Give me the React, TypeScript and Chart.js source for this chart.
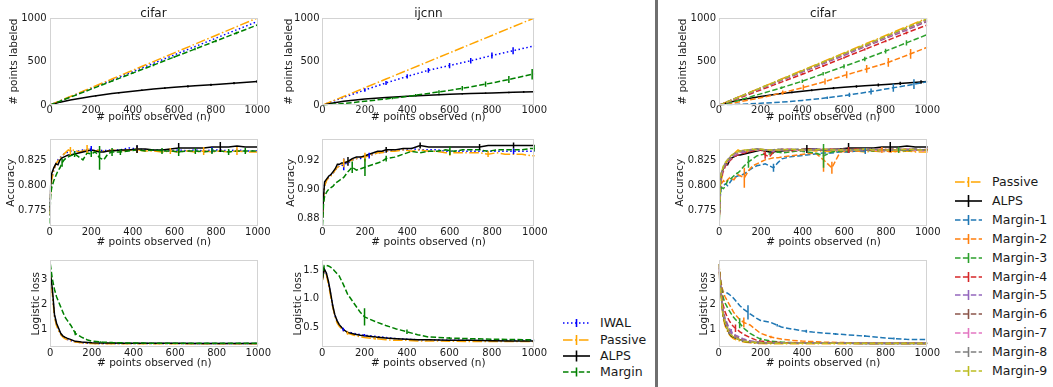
import React, { useEffect, useRef } from "react";
import { Chart, registerables } from "chart.js";
Chart.register(...registerables);

const FONT = '"DejaVu Sans", sans-serif';
Chart.defaults.font.family = FONT;

// ---------------- tick labels / grids ----------------
const X_TICKS = [0, 200, 400, 600, 800, 1000];
const Y_TICKS_LAB = [0, 500, 1000];
const Y_TICKS_ACC_CIFAR = [0.775, 0.8, 0.825];
const Y_TICKS_ACC_IJCNN = [0.88, 0.9, 0.92];
const Y_TICKS_LOSS_CIFAR = [1, 2, 3];
const Y_TICKS_LOSS_IJCNN = [0.5, 1.0, 1.5];

const N_TOP = [0, 50, 100, 200, 300, 400, 500, 600, 700, 800, 900, 1000];
const N_ACC = [0, 5, 10, 20, 30, 40, 50, 60, 70, 80, 90, 100, 120, 140, 160, 180, 200, 220, 240, 260, 280, 300, 340, 380, 420, 460, 500, 540, 580, 620, 660, 700, 740, 780, 820, 860, 900, 940, 980, 1000];
const N_LOSS = [0, 10, 20, 30, 40, 50, 60, 70, 80, 100, 120, 150, 180, 200, 250, 300, 350, 400, 450, 500, 600, 700, 800, 900, 1000];

// ---------------- # points labeled ----------------
const labCifarPassive = [0, 50, 100, 200, 300, 400, 500, 600, 700, 800, 900, 1000];
const labCifarIWAL = [0, 48, 96, 192, 288, 384, 480, 576, 672, 768, 864, 960];
const labCifarALPS = [0, 35, 60, 100, 135, 160, 185, 205, 222, 238, 255, 272];
const labCifarMargin = [0, 46, 92, 184, 276, 368, 460, 552, 644, 736, 828, 920];

const labIjPassive = [0, 50, 100, 200, 300, 400, 500, 600, 700, 800, 900, 1000];
const labIjIWAL = [0, 45, 90, 175, 255, 330, 400, 455, 510, 570, 625, 680];
const labIjALPS = [0, 25, 45, 70, 88, 103, 115, 125, 133, 140, 148, 155];
const labIjMargin = [0, 10, 20, 45, 72, 100, 135, 170, 210, 255, 305, 360];

const labM1 = [0, 5, 10, 22, 35, 55, 80, 110, 145, 185, 225, 270];
const labM2 = [0, 18, 40, 85, 140, 200, 265, 340, 410, 480, 570, 665];
const labM3 = [0, 28, 60, 130, 200, 275, 360, 445, 530, 620, 715, 810];
const labM4 = [0, 42, 85, 175, 265, 355, 450, 545, 640, 735, 830, 920];
const labM5 = [0, 47, 94, 190, 285, 380, 475, 570, 670, 765, 860, 960];
const labM6 = [0, 48, 96, 193, 290, 385, 482, 580, 676, 772, 870, 968];
const labM7 = [0, 48, 97, 194, 292, 388, 486, 583, 680, 777, 874, 975];
const labM8 = [0, 49, 98, 196, 294, 392, 490, 588, 686, 784, 882, 982];
const labM9 = [0, 49, 99, 198, 297, 396, 495, 594, 693, 792, 891, 992];

// ---------------- accuracy ----------------
const accCifarALPS = [0.775, 0.8, 0.812, 0.818, 0.822, 0.821, 0.826, 0.828, 0.829, 0.83, 0.831, 0.831, 0.832, 0.833, 0.834, 0.835, 0.836, 0.835, 0.834, 0.834, 0.835, 0.835, 0.836, 0.836, 0.837, 0.837, 0.836, 0.836, 0.837, 0.838, 0.838, 0.838, 0.838, 0.839, 0.839, 0.839, 0.84, 0.839, 0.839, 0.839];
const accCifarMargin = [0.762, 0.79, 0.798, 0.805, 0.81, 0.815, 0.818, 0.823, 0.826, 0.828, 0.829, 0.83, 0.832, 0.829, 0.826, 0.833, 0.832, 0.834, 0.828, 0.826, 0.832, 0.834, 0.834, 0.835, 0.836, 0.835, 0.836, 0.835, 0.835, 0.834, 0.835, 0.835, 0.834, 0.835, 0.835, 0.834, 0.835, 0.835, 0.835, 0.835];
const accCifarPassive = [0.77, 0.795, 0.806, 0.815, 0.822, 0.825, 0.828, 0.83, 0.832, 0.834, 0.836, 0.835, 0.836, 0.834, 0.835, 0.837, 0.836, 0.835, 0.836, 0.835, 0.835, 0.836, 0.835, 0.836, 0.836, 0.835, 0.835, 0.834, 0.835, 0.834, 0.835, 0.834, 0.835, 0.834, 0.835, 0.834, 0.835, 0.834, 0.834, 0.834];
const accCifarIWAL = [0.77, 0.796, 0.807, 0.816, 0.822, 0.826, 0.828, 0.83, 0.832, 0.833, 0.834, 0.835, 0.834, 0.835, 0.836, 0.836, 0.837, 0.835, 0.836, 0.835, 0.836, 0.836, 0.836, 0.838, 0.837, 0.836, 0.836, 0.836, 0.835, 0.836, 0.835, 0.836, 0.835, 0.836, 0.836, 0.835, 0.836, 0.835, 0.835, 0.835];

const accIjALPS = [0.88, 0.895, 0.905, 0.907, 0.909, 0.91, 0.912, 0.914, 0.917, 0.917, 0.918, 0.918, 0.919, 0.921, 0.922, 0.922, 0.923, 0.924, 0.925, 0.926, 0.926, 0.927, 0.927, 0.928, 0.928, 0.93, 0.929, 0.929, 0.929, 0.929, 0.929, 0.929, 0.929, 0.93, 0.93, 0.93, 0.93, 0.93, 0.93, 0.93];
const accIjMargin = [0.875, 0.89, 0.895, 0.898, 0.9, 0.901, 0.902, 0.904, 0.905, 0.906, 0.907, 0.908, 0.912, 0.915, 0.913, 0.914, 0.915, 0.916, 0.917, 0.918, 0.919, 0.921, 0.922, 0.924, 0.926, 0.925, 0.926, 0.926, 0.927, 0.926, 0.927, 0.927, 0.927, 0.926, 0.927, 0.927, 0.927, 0.927, 0.928, 0.928];
const accIjPassive = [0.88, 0.893, 0.902, 0.906, 0.908, 0.909, 0.911, 0.913, 0.915, 0.916, 0.917, 0.918, 0.919, 0.92, 0.921, 0.922, 0.922, 0.923, 0.924, 0.925, 0.925, 0.926, 0.926, 0.927, 0.926, 0.927, 0.926, 0.926, 0.925, 0.925, 0.925, 0.925, 0.925, 0.924, 0.925, 0.924, 0.924, 0.924, 0.923, 0.923];
const accIjIWAL = [0.88, 0.894, 0.903, 0.906, 0.908, 0.91, 0.911, 0.913, 0.915, 0.916, 0.916, 0.917, 0.918, 0.92, 0.921, 0.921, 0.922, 0.923, 0.924, 0.925, 0.925, 0.926, 0.927, 0.927, 0.928, 0.927, 0.927, 0.927, 0.926, 0.926, 0.926, 0.926, 0.926, 0.926, 0.926, 0.926, 0.926, 0.926, 0.926, 0.926];

const accM1 = [0.77, 0.79, 0.798, 0.8, 0.802, 0.8, 0.803, 0.806, 0.808, 0.809, 0.81, 0.81, 0.812, 0.815, 0.818, 0.82, 0.821, 0.822, 0.82, 0.818, 0.823, 0.827, 0.829, 0.83, 0.831, 0.832, 0.833, 0.833, 0.834, 0.834, 0.835, 0.835, 0.836, 0.835, 0.836, 0.836, 0.836, 0.836, 0.836, 0.836];
const accM2 = [0.77, 0.795, 0.802, 0.805, 0.803, 0.806, 0.808, 0.807, 0.806, 0.809, 0.811, 0.81, 0.808, 0.815, 0.82, 0.822, 0.824, 0.826, 0.827, 0.828, 0.828, 0.829, 0.83, 0.831, 0.832, 0.833, 0.826, 0.818, 0.834, 0.835, 0.835, 0.836, 0.835, 0.836, 0.834, 0.835, 0.836, 0.835, 0.836, 0.836];
const accM3 = [0.765, 0.792, 0.798, 0.797, 0.8, 0.805, 0.806, 0.808, 0.81, 0.812, 0.813, 0.815, 0.82, 0.824, 0.827, 0.83, 0.831, 0.832, 0.832, 0.833, 0.834, 0.833, 0.834, 0.835, 0.834, 0.833, 0.83, 0.834, 0.835, 0.835, 0.836, 0.836, 0.835, 0.836, 0.836, 0.836, 0.835, 0.836, 0.836, 0.836];
const accM4 = [0.77, 0.798, 0.808, 0.815, 0.82, 0.822, 0.825, 0.827, 0.829, 0.83, 0.831, 0.832, 0.833, 0.834, 0.835, 0.836, 0.836, 0.831, 0.829, 0.834, 0.836, 0.836, 0.835, 0.836, 0.837, 0.836, 0.836, 0.837, 0.836, 0.836, 0.837, 0.836, 0.836, 0.837, 0.836, 0.836, 0.837, 0.836, 0.836, 0.837];
const accM5 = [0.77, 0.8, 0.81, 0.817, 0.821, 0.824, 0.826, 0.828, 0.83, 0.831, 0.832, 0.833, 0.834, 0.835, 0.836, 0.836, 0.837, 0.836, 0.836, 0.835, 0.836, 0.836, 0.837, 0.836, 0.836, 0.837, 0.836, 0.836, 0.837, 0.836, 0.836, 0.836, 0.837, 0.836, 0.836, 0.836, 0.837, 0.836, 0.836, 0.836];
const accM6 = [0.77, 0.8, 0.811, 0.818, 0.822, 0.825, 0.827, 0.829, 0.831, 0.832, 0.833, 0.834, 0.835, 0.836, 0.836, 0.837, 0.836, 0.836, 0.835, 0.836, 0.836, 0.837, 0.836, 0.836, 0.837, 0.836, 0.836, 0.837, 0.837, 0.836, 0.837, 0.836, 0.837, 0.836, 0.837, 0.837, 0.836, 0.837, 0.836, 0.837];
const accM7 = [0.77, 0.801, 0.812, 0.819, 0.823, 0.826, 0.828, 0.83, 0.831, 0.832, 0.834, 0.834, 0.835, 0.836, 0.837, 0.836, 0.837, 0.836, 0.836, 0.835, 0.836, 0.836, 0.837, 0.835, 0.836, 0.836, 0.837, 0.836, 0.836, 0.835, 0.836, 0.837, 0.836, 0.835, 0.836, 0.836, 0.837, 0.836, 0.835, 0.835];
const accM8 = [0.77, 0.802, 0.813, 0.819, 0.823, 0.826, 0.828, 0.83, 0.832, 0.833, 0.834, 0.835, 0.835, 0.836, 0.836, 0.837, 0.836, 0.836, 0.836, 0.836, 0.837, 0.836, 0.836, 0.837, 0.836, 0.836, 0.836, 0.837, 0.836, 0.836, 0.836, 0.836, 0.837, 0.836, 0.836, 0.836, 0.836, 0.837, 0.836, 0.836];
const accM9 = [0.768, 0.803, 0.813, 0.82, 0.824, 0.826, 0.829, 0.831, 0.832, 0.833, 0.834, 0.835, 0.836, 0.836, 0.837, 0.836, 0.837, 0.836, 0.836, 0.836, 0.836, 0.836, 0.837, 0.836, 0.836, 0.836, 0.837, 0.836, 0.836, 0.836, 0.836, 0.837, 0.836, 0.836, 0.836, 0.836, 0.837, 0.836, 0.836, 0.836];

// ---------------- logistic loss ----------------
const lossCifarALPS = [3.3, 2.6, 1.6, 1.25, 1.05, 0.85, 0.75, 0.7, 0.66, 0.6, 0.53, 0.5, 0.48, 0.47, 0.46, 0.46, 0.455, 0.455, 0.45, 0.45, 0.45, 0.445, 0.445, 0.445, 0.445];
const lossCifarMargin = [3.6, 3.0, 2.6, 2.3, 2.1, 1.9, 1.7, 1.5, 1.38, 1.15, 0.85, 0.7, 0.58, 0.54, 0.5, 0.48, 0.47, 0.465, 0.46, 0.455, 0.455, 0.45, 0.45, 0.45, 0.45];
const lossCifarPassive = [3.3, 2.4, 1.5, 1.15, 0.95, 0.8, 0.7, 0.64, 0.6, 0.55, 0.5, 0.47, 0.45, 0.44, 0.435, 0.43, 0.43, 0.43, 0.43, 0.43, 0.43, 0.43, 0.43, 0.43, 0.43];
const lossCifarIWAL = [3.3, 2.45, 1.55, 1.2, 1.0, 0.82, 0.72, 0.66, 0.61, 0.56, 0.51, 0.48, 0.46, 0.45, 0.44, 0.44, 0.44, 0.44, 0.44, 0.44, 0.44, 0.44, 0.44, 0.44, 0.44];

const lossIjALPS = [1.3, 1.52, 1.45, 1.3, 1.1, 0.88, 0.72, 0.62, 0.55, 0.46, 0.41, 0.38, 0.36, 0.35, 0.33, 0.31, 0.3, 0.29, 0.28, 0.28, 0.27, 0.27, 0.265, 0.26, 0.26];
const lossIjPassive = [1.3, 1.5, 1.42, 1.25, 1.05, 0.85, 0.7, 0.58, 0.52, 0.44, 0.4, 0.36, 0.33, 0.32, 0.3, 0.28, 0.27, 0.27, 0.26, 0.26, 0.255, 0.25, 0.25, 0.25, 0.25];
const lossIjIWAL = [1.3, 1.51, 1.44, 1.28, 1.08, 0.87, 0.71, 0.61, 0.54, 0.46, 0.42, 0.39, 0.37, 0.36, 0.34, 0.32, 0.3, 0.29, 0.28, 0.28, 0.27, 0.27, 0.27, 0.27, 0.27];
const lossIjMargin = [1.35, 1.58, 1.58, 1.57, 1.55, 1.52, 1.48, 1.44, 1.4, 1.25, 1.08, 0.92, 0.76, 0.68, 0.6, 0.53, 0.47, 0.42, 0.37, 0.33, 0.31, 0.3, 0.29, 0.285, 0.28];

const lossM1 = [3.6, 2.8, 2.5, 2.48, 2.45, 2.4, 2.32, 2.25, 2.15, 1.95, 1.8, 1.62, 1.45, 1.36, 1.28, 1.1, 1.02, 0.95, 0.9, 0.86, 0.8, 0.74, 0.66, 0.61, 0.6];
const lossM2 = [3.6, 2.9, 2.5, 2.3, 2.15, 2.0, 1.85, 1.7, 1.58, 1.4, 1.28, 1.18, 0.98, 0.85, 0.7, 0.62, 0.57, 0.54, 0.52, 0.5, 0.48, 0.47, 0.46, 0.46, 0.46];
const lossM3 = [3.6, 2.8, 2.3, 2.05, 1.9, 1.75, 1.62, 1.5, 1.4, 1.25, 1.05, 0.85, 0.7, 0.62, 0.54, 0.5, 0.48, 0.47, 0.46, 0.46, 0.455, 0.45, 0.45, 0.45, 0.45];
const lossM4 = [3.6, 2.7, 2.0, 1.7, 1.5, 1.35, 1.22, 1.12, 1.05, 0.92, 0.8, 0.68, 0.58, 0.54, 0.5, 0.48, 0.47, 0.46, 0.455, 0.45, 0.45, 0.45, 0.45, 0.45, 0.45];
const lossM5 = [3.5, 2.6, 1.8, 1.45, 1.25, 1.05, 0.92, 0.85, 0.78, 0.7, 0.62, 0.55, 0.51, 0.49, 0.47, 0.46, 0.455, 0.45, 0.45, 0.45, 0.45, 0.45, 0.45, 0.45, 0.45];
const lossM6 = [3.45, 2.55, 1.7, 1.35, 1.15, 0.95, 0.85, 0.78, 0.72, 0.64, 0.57, 0.52, 0.49, 0.48, 0.46, 0.455, 0.45, 0.45, 0.45, 0.45, 0.45, 0.45, 0.45, 0.45, 0.45];
const lossM7 = [3.4, 2.5, 1.65, 1.3, 1.1, 0.9, 0.8, 0.74, 0.69, 0.61, 0.55, 0.51, 0.48, 0.47, 0.46, 0.455, 0.45, 0.45, 0.45, 0.45, 0.45, 0.45, 0.45, 0.45, 0.45];
const lossM8 = [3.38, 2.48, 1.62, 1.28, 1.08, 0.88, 0.78, 0.72, 0.68, 0.6, 0.54, 0.5, 0.48, 0.47, 0.46, 0.45, 0.45, 0.45, 0.45, 0.45, 0.45, 0.45, 0.45, 0.45, 0.45];
const lossM9 = [3.6, 2.45, 1.6, 1.26, 1.06, 0.86, 0.77, 0.71, 0.67, 0.59, 0.53, 0.5, 0.48, 0.47, 0.46, 0.45, 0.45, 0.45, 0.45, 0.45, 0.45, 0.45, 0.45, 0.45, 0.45];

// ---------------- error bars: [n, half length] ----------------
const errLabCifarALPS = [[111, 5], [222, 7], [333, 8], [444, 9], [555, 10], [666, 12], [777, 13], [888, 14], [999, 15]];
const errLabCifarMargin = [[300, 10], [400, 10], [500, 12], [600, 12], [700, 14], [800, 14], [900, 15]];
const errLabIjIWAL = [[200, 20], [300, 22], [400, 25], [500, 28], [600, 30], [700, 32], [800, 35], [900, 40]];
const errLabIjMargin = [[330, 12], [440, 15], [550, 20], [660, 25], [770, 30], [880, 40], [990, 60]];
const errLabIjALPS = [[440, 6], [550, 7], [660, 8], [770, 8], [880, 9], [950, 10]];
const errLabRALPS = [[350, 10], [445, 12], [550, 13], [660, 15], [765, 17], [870, 18], [970, 20]];
const errLabM1 = [[520, 15], [626, 25], [730, 35], [837, 45], [936, 55]];
const errLabM2 = [[306, 25], [405, 30], [509, 35], [613, 40], [709, 45], [813, 50], [920, 55]];
const errLabM3 = [[300, 15], [400, 20], [500, 20], [600, 25], [700, 25], [800, 28], [900, 30]];
const errLabM4 = [[400, 10], [500, 12], [600, 12], [700, 14], [800, 14], [900, 15]];

const errAccCifarMargin = [[60, 0.004], [120, 0.003], [200, 0.003], [240, 0.012], [300, 0.004], [340, 0.003], [540, 0.003], [620, 0.004], [700, 0.003], [780, 0.003], [860, 0.003], [940, 0.003]];
const errAccCifarALPS = [[420, 0.004], [620, 0.005], [820, 0.005]];
const errAccCifarPassive = [[100, 0.004], [180, 0.004], [420, 0.003], [580, 0.003], [740, 0.004], [900, 0.004]];
const errAccCifarIWAL = [[200, 0.003], [420, 0.003], [780, 0.003]];
const errAccIjMargin = [[140, 0.004], [200, 0.006], [300, 0.002], [600, 0.003], [1000, 0.002]];
const errAccIjALPS = [[120, 0.003], [300, 0.002], [460, 0.002], [740, 0.002], [900, 0.002]];
const errAccIjPassive = [[100, 0.003], [200, 0.003], [600, 0.002], [780, 0.002]];
const errAccIjIWAL = [[100, 0.004], [220, 0.002], [900, 0.002]];
const errAccM1 = [[260, 0.004], [500, 0.003], [700, 0.003]];
const errAccM2 = [[120, 0.01], [500, 0.012], [540, 0.006], [780, 0.003]];
const errAccM3 = [[140, 0.006], [500, 0.012], [860, 0.003]];
const errAccM4 = [[220, 0.004], [620, 0.003]];

const errLossCifarMargin = [[120, 0.08], [240, 0.03]];
const errLossIjMargin = [[0, 0.13], [200, 0.15], [400, 0.04], [600, 0.02]];
const errLossIjPassive = [[120, 0.03], [250, 0.02]];
const errLossIjIWAL = [[100, 0.03], [200, 0.02]];
const errLossM1 = [[140, 0.28], [280, 0.05], [420, 0.06], [560, 0.04], [700, 0.04], [840, 0.04]];
const errLossM2 = [[120, 0.2], [250, 0.05]];
const errLossM3 = [[100, 0.2], [200, 0.05]];
const errLossM4 = [[80, 0.15]];
const errLossM5 = [[60, 0.1]];

// ---------------- styles ----------------
const C_IWAL = "#0000ff";
const C_PASSIVE = "#ffa500";
const C_ALPS = "#000000";
const C_MARGIN = "#008000";
const TAB10 = ["#1f77b4", "#ff7f0e", "#2ca02c", "#d62728", "#9467bd", "#8c564b", "#e377c2", "#7f7f7f", "#bcbd22"];
const DOTTED = [1.5, 2.5];
const DASH_DOT = [9.6, 2.4, 1.5, 2.4];
const DASHED = [5.5, 2.4];
const SOLID: number[] = [];

const ser = (label: string, color: string, dash: number[], xs: number[], ys: number[], err: number[][] = []) => ({ label, color, dash, xs, ys, err });

const MARGIN_LABELS = ["Margin-1", "Margin-2", "Margin-3", "Margin-4", "Margin-5", "Margin-6", "Margin-7", "Margin-8", "Margin-9"];

const rightSeries = (xs: number[], passive: number[], alps: number[], ms: number[][], errs: number[][][], errAlps: number[][] = []) => [
  ser("Passive", C_PASSIVE, DASH_DOT, xs, passive),
  ser("ALPS", C_ALPS, SOLID, xs, alps, errAlps),
  ...ms.map((m, i) => ser(MARGIN_LABELS[i], TAB10[i], DASHED, xs, m, errs[i] || [])),
];

// ---------------- layout ----------------
const COLS = [[50, 258], [322, 534], [719, 927]];
const ROWS = [[18, 105], [139, 226], [260, 347]];
const X_TITLE_CY = [117.5, 242.3, 363.3];
const X_TICK_PAD = [0, 1.5, 1];

const fmtInt = (v: number) => String(Math.round(v));
const fmt3 = (v: number) => v.toFixed(3);
const fmt2 = (v: number) => v.toFixed(2);
const fmt1 = (v: number) => v.toFixed(1);

const PANELS = [
  { col: 0, row: 0, title: "cifar", yMin: 0, yMax: 1000, yTicks: Y_TICKS_LAB, fmt: fmtInt, yTitle: "# points labeled", yTitleCX: 14.7,
    series: [ser("IWAL", C_IWAL, DOTTED, N_TOP, labCifarIWAL), ser("Passive", C_PASSIVE, DASH_DOT, N_TOP, labCifarPassive), ser("ALPS", C_ALPS, SOLID, N_TOP, labCifarALPS, errLabCifarALPS), ser("Margin", C_MARGIN, DASHED, N_TOP, labCifarMargin, errLabCifarMargin)] },
  { col: 1, row: 0, title: "ijcnn", yMin: 0, yMax: 1000, yTicks: Y_TICKS_LAB, fmt: fmtInt, yTitle: "# points labeled", yTitleCX: 288.8,
    series: [ser("IWAL", C_IWAL, DOTTED, N_TOP, labIjIWAL, errLabIjIWAL), ser("Passive", C_PASSIVE, DASH_DOT, N_TOP, labIjPassive), ser("ALPS", C_ALPS, SOLID, N_TOP, labIjALPS, errLabIjALPS), ser("Margin", C_MARGIN, DASHED, N_TOP, labIjMargin, errLabIjMargin)] },
  { col: 2, row: 0, title: "cifar", yMin: 0, yMax: 1000, yTicks: Y_TICKS_LAB, fmt: fmtInt, yTitle: "# points labeled", yTitleCX: 683.3,
    series: rightSeries(N_TOP, labCifarPassive, labCifarALPS, [labM1, labM2, labM3, labM4, labM5, labM6, labM7, labM8, labM9], [errLabM1, errLabM2, errLabM3, errLabM4], errLabRALPS) },
  { col: 0, row: 1, yMin: 0.759, yMax: 0.847, yTicks: Y_TICKS_ACC_CIFAR, fmt: fmt3, yTitle: "Accuracy", yTitleCX: 11.7,
    series: [ser("IWAL", C_IWAL, DOTTED, N_ACC, accCifarIWAL, errAccCifarIWAL), ser("Passive", C_PASSIVE, DASH_DOT, N_ACC, accCifarPassive, errAccCifarPassive), ser("ALPS", C_ALPS, SOLID, N_ACC, accCifarALPS, errAccCifarALPS), ser("Margin", C_MARGIN, DASHED, N_ACC, accCifarMargin, errAccCifarMargin)] },
  { col: 1, row: 1, yMin: 0.8742, yMax: 0.9345, yTicks: Y_TICKS_ACC_IJCNN, fmt: fmt2, yTitle: "Accuracy", yTitleCX: 290.8,
    series: [ser("IWAL", C_IWAL, DOTTED, N_ACC, accIjIWAL, errAccIjIWAL), ser("Passive", C_PASSIVE, DASH_DOT, N_ACC, accIjPassive, errAccIjPassive), ser("ALPS", C_ALPS, SOLID, N_ACC, accIjALPS, errAccIjALPS), ser("Margin", C_MARGIN, DASHED, N_ACC, accIjMargin, errAccIjMargin)] },
  { col: 2, row: 1, yMin: 0.759, yMax: 0.847, yTicks: Y_TICKS_ACC_CIFAR, fmt: fmt3, yTitle: "Accuracy", yTitleCX: 680,
    series: rightSeries(N_ACC, accCifarPassive, accCifarALPS, [accM1, accM2, accM3, accM4, accM5, accM6, accM7, accM8, accM9], [errAccM1, errAccM2, errAccM3, errAccM4], errAccCifarALPS) },
  { col: 0, row: 2, yMin: 0.29, yMax: 3.76, yTicks: Y_TICKS_LOSS_CIFAR, fmt: fmtInt, yTitle: "Logistic loss", yTitleCX: 36,
    series: [ser("IWAL", C_IWAL, DOTTED, N_LOSS, lossCifarIWAL), ser("Passive", C_PASSIVE, DASH_DOT, N_LOSS, lossCifarPassive), ser("ALPS", C_ALPS, SOLID, N_LOSS, lossCifarALPS), ser("Margin", C_MARGIN, DASHED, N_LOSS, lossCifarMargin, errLossCifarMargin)] },
  { col: 1, row: 2, yMin: 0.147, yMax: 1.676, yTicks: Y_TICKS_LOSS_IJCNN, fmt: fmt1, yTitle: "Logistic loss", yTitleCX: 298.2,
    series: [ser("IWAL", C_IWAL, DOTTED, N_LOSS, lossIjIWAL, errLossIjIWAL), ser("Passive", C_PASSIVE, DASH_DOT, N_LOSS, lossIjPassive, errLossIjPassive), ser("ALPS", C_ALPS, SOLID, N_LOSS, lossIjALPS), ser("Margin", C_MARGIN, DASHED, N_LOSS, lossIjMargin, errLossIjMargin)] },
  { col: 2, row: 2, yMin: 0.29, yMax: 3.76, yTicks: Y_TICKS_LOSS_CIFAR, fmt: fmtInt, yTitle: "Logistic loss", yTitleCX: 704.5,
    series: rightSeries(N_LOSS, lossCifarPassive, lossCifarALPS, [lossM1, lossM2, lossM3, lossM4, lossM5, lossM6, lossM7, lossM8, lossM9], [errLossM1, errLossM2, errLossM3, errLossM4, errLossM5]) },
];

const TEXT = "#1a1a1a";
const AX_FS = 10.5;
const AX_LH = AX_FS * 1.2;

function interpY(pts: any[], x: number) {
  for (let i = 0; i < pts.length - 1; i++) {
    const a = pts[i], b = pts[i + 1];
    if (x >= a.x && x <= b.x) {
      const f = b.x === a.x ? 0 : (x - a.x) / (b.x - a.x);
      return a.y + f * (b.y - a.y);
    }
  }
  return pts[pts.length - 1].y;
}

const decorPlugin = {
  id: "decor",
  afterDatasetsDraw(chart: any) {
    const { ctx, chartArea: ca, scales } = chart;
    ctx.save();
    ctx.beginPath();
    ctx.rect(ca.left, ca.top, ca.right - ca.left, ca.bottom - ca.top);
    ctx.clip();
    chart.data.datasets.forEach((ds: any) => {
      ctx.strokeStyle = ds.borderColor;
      ctx.lineWidth = 1.5;
      ctx.setLineDash([]);
      (ds.errBars || []).forEach((e: number[]) => {
        const y = interpY(ds.data, e[0]);
        const px = scales.x.getPixelForValue(e[0]);
        ctx.beginPath();
        ctx.moveTo(px, scales.y.getPixelForValue(y - e[1]));
        ctx.lineTo(px, scales.y.getPixelForValue(y + e[1]));
        ctx.stroke();
      });
    });
    ctx.restore();
    ctx.save();
    ctx.strokeStyle = "#d3d3d3";
    ctx.lineWidth = 1;
    ctx.setLineDash([]);
    ctx.strokeRect(Math.round(ca.left) + 0.5, Math.round(ca.top) + 0.5, Math.round(ca.right - ca.left) - 1, Math.round(ca.bottom - ca.top) - 1);
    ctx.restore();
  },
  afterDraw(chart: any, _args: any, opts: any) {
    if (!opts || !opts.text) return;
    const { ctx, chartArea: ca } = chart;
    ctx.save();
    ctx.fillStyle = TEXT;
    ctx.font = `12px ${FONT}`;
    ctx.textAlign = "center";
    ctx.textBaseline = "alphabetic";
    ctx.fillText(opts.text, (ca.left + ca.right) / 2, ca.top - 1.5);
    ctx.restore();
  },
};

function PanelChart({ p }: { p: any }) {
  const ref = useRef<HTMLCanvasElement>(null);
  useEffect(() => {
    const canvas = ref.current!;
    const [l, r] = COLS[p.col];
    const [t, b] = ROWS[p.row];
    const yW = l - p.yTitleCX + AX_LH / 2;
    const xH = X_TITLE_CY[p.row] - b + AX_LH / 2;
    canvas.width = Math.round(r - l + yW + 20);
    canvas.height = Math.round(b - t + xH + (p.title ? 26 : 12));
    const n = p.series.length;
    const chart = new Chart(canvas, {
      type: "line",
      data: {
        datasets: p.series.map((s: any, i: number) => ({
          label: s.label,
          data: s.xs.map((x: number, k: number) => ({ x, y: s.ys[k] })),
          borderColor: s.color,
          backgroundColor: s.color,
          borderDash: s.dash,
          borderWidth: 1.5,
          pointRadius: 0,
          fill: false,
          tension: 0,
          order: n - i,
          errBars: s.err,
        })),
      },
      options: {
        responsive: false,
        maintainAspectRatio: false,
        animation: false,
        events: [],
        layout: { padding: { top: p.title ? 20 : 6, right: 4, left: 0, bottom: 0 } },
        plugins: { legend: { display: false }, tooltip: { enabled: false }, decor: { text: p.title || "" } },
        scales: {
          x: {
            type: "linear",
            min: 0,
            max: 1000,
            afterBuildTicks: (s: any) => { s.ticks = X_TICKS.map((v) => ({ value: v })); },
            afterFit: (s: any) => { s.height = xH; },
            ticks: { autoSkip: false, maxRotation: 0, padding: X_TICK_PAD[p.row], color: TEXT, font: { size: 10, lineHeight: 1 }, callback: (v: any) => String(v) },
            grid: { display: false, drawTicks: false },
            border: { display: false },
            title: { display: true, text: "# points observed (n)", color: TEXT, font: { size: AX_FS, lineHeight: 1.2 }, padding: 0 },
          },
          y: {
            type: "linear",
            min: p.yMin,
            max: p.yMax,
            afterBuildTicks: (s: any) => { s.ticks = p.yTicks.map((v: number) => ({ value: v })); },
            afterFit: (s: any) => { s.width = yW; },
            ticks: { autoSkip: false, padding: 3, color: TEXT, font: { size: 10, lineHeight: 1 }, callback: (v: any) => p.fmt(Number(v)) },
            grid: { display: false, drawTicks: false },
            border: { display: false },
            title: { display: true, text: p.yTitle, color: TEXT, font: { size: AX_FS, lineHeight: 1.2 }, padding: 0 },
          },
        },
      } as any,
      plugins: [decorPlugin as any],
    });
    const ca = chart.chartArea;
    const W = Math.round(chart.width + (r - l) - (ca.right - ca.left));
    const H = Math.round(chart.height + (b - t) - (ca.bottom - ca.top));
    chart.resize(W, H);
    const ca2 = chart.chartArea;
    canvas.style.left = `${l - ca2.left}px`;
    canvas.style.top = `${t - ca2.top}px`;
    return () => chart.destroy();
  }, [p]);
  return <canvas ref={ref} style={{ position: "absolute", left: 0, top: 0 }} />;
}

const LEFT_LEGEND = [
  { label: "IWAL", color: C_IWAL, dash: DOTTED, tick: 4 },
  { label: "Passive", color: C_PASSIVE, dash: DASH_DOT, tick: 5 },
  { label: "ALPS", color: C_ALPS, dash: SOLID, tick: 5.5 },
  { label: "Margin", color: C_MARGIN, dash: DASHED, tick: 4.5 },
];
const RIGHT_LEGEND = [
  { label: "Passive", color: C_PASSIVE, dash: DASH_DOT, tick: 5 },
  { label: "ALPS", color: C_ALPS, dash: SOLID, tick: 6 },
  ...MARGIN_LABELS.map((lab, i) => ({ label: lab, color: TAB10[i], dash: DASHED, tick: 5 })),
];

function Legend({ items, x0, textX, y0, dy, fs }: any) {
  return (
    <>
      {items.map((it: any, i: number) => {
        const y = y0 + i * dy;
        return (
          <React.Fragment key={it.label}>
            <svg style={{ position: "absolute", left: x0, top: y - 8, overflow: "visible" }} width={28} height={16}>
              <line x1={0} y1={8} x2={27} y2={8} stroke={it.color} strokeWidth={1.6} strokeDasharray={it.dash.length ? it.dash.join(" ") : undefined} />
              <line x1={13.5} y1={8 - it.tick} x2={13.5} y2={8 + it.tick} stroke={it.color} strokeWidth={1.6} />
            </svg>
            <span style={{ position: "absolute", left: textX, top: y - 0.48 * fs, font: `${fs}px ${FONT}`, lineHeight: `${fs}px`, whiteSpace: "nowrap", color: TEXT }}>{it.label}</span>
          </React.Fragment>
        );
      })}
    </>
  );
}

export default function App() {
  return (
    <div style={{ position: "fixed", left: 0, top: 0, width: 1053, height: 387, background: "#ffffff", overflow: "hidden" }}>
      {PANELS.map((p, i) => <PanelChart key={i} p={p} />)}
      <div style={{ position: "absolute", left: 655, top: 0, width: 3, height: 387, background: "#6f6f6f" }} />
      <Legend items={LEFT_LEGEND} x0={563} textX={600} y0={323.4} dy={16.1} fs={12.5} />
      <Legend items={RIGHT_LEGEND} x0={955} textX={992} y0={182.3} dy={18.84} fs={12.5} />
    </div>
  );
}
